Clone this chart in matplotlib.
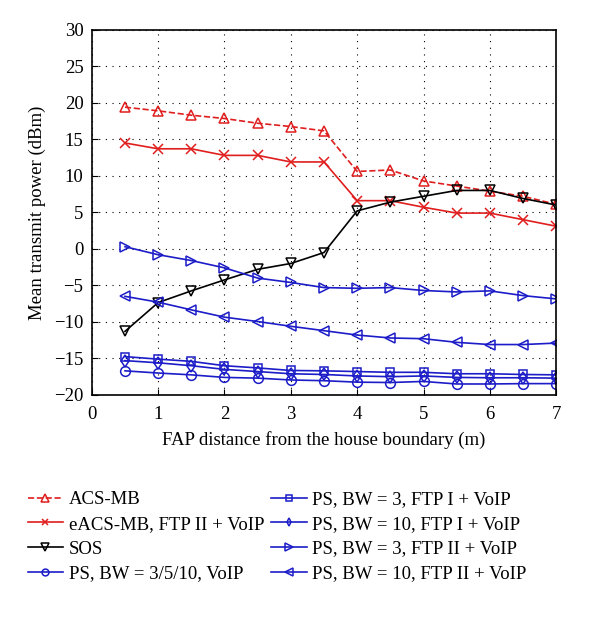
import matplotlib
matplotlib.use("Agg")
import matplotlib.pyplot as plt

plt.rcParams['font.family'] = ['Liberation Serif', 'DejaVu Serif']
plt.rcParams['axes.unicode_minus'] = True

x = [0.5, 1, 1.5, 2, 2.5, 3, 3.5, 4, 4.5, 5, 5.5, 6, 6.5, 7]

acs_mb = [19.4, 18.9, 18.3, 17.85, 17.2, 16.75, 16.15, 10.6, 10.8, 9.3, 8.6, 7.9, 7.2, 6.1]
eacs_mb = [14.5, 13.7, 13.7, 12.8, 12.8, 11.9, 11.9, 6.6, 6.6, 5.7, 4.9, 4.9, 4.0, 3.1]
sos = [-11.3, -7.35, -5.75, -4.25, -2.8, -2.0, -0.5, 5.2, 6.4, 7.2, 8.0, 8.0, 6.9, 6.0]
ps_voip = [-16.7, -17.0, -17.25, -17.6, -17.7, -17.95, -18.05, -18.25, -18.3, -18.15, -18.5, -18.5, -18.45, -18.45]
ps3_ftp1 = [-14.75, -15.1, -15.4, -16.0, -16.3, -16.65, -16.7, -16.8, -16.9, -16.9, -17.1, -17.1, -17.2, -17.25]
ps10_ftp1 = [-15.3, -15.6, -16.0, -16.5, -16.8, -17.1, -17.2, -17.4, -17.5, -17.4, -17.6, -17.65, -17.65, -17.7]
ps3_ftp2 = [0.3, -0.8, -1.6, -2.6, -4.0, -4.6, -5.3, -5.4, -5.3, -5.7, -5.9, -5.75, -6.4, -6.85]
ps10_ftp2 = [-6.5, -7.3, -8.35, -9.35, -9.95, -10.6, -11.2, -11.8, -12.2, -12.3, -12.8, -13.1, -13.1, -12.9]

labels = ["ACS-MB", "eACS-MB, FTP II + VoIP", "SOS", "PS, BW = 3/5/10, VoIP",
          "PS, BW = 3, FTP I + VoIP", "PS, BW = 10, FTP I + VoIP",
          "PS, BW = 3, FTP II + VoIP", "PS, BW = 10, FTP II + VoIP"]
xticks = [0, 1, 2, 3, 4, 5, 6, 7]
yticks = [-20, -15, -10, -5, 0, 5, 10, 15, 20, 25, 30]

RED = '#e01e1e'
BLUE = '#1c1cc8'
BLACK = '#000000'

fig = plt.figure(figsize=(6, 6.2), dpi=100)
ax = fig.add_axes([0.153, 0.363, 0.774, 0.589])

series = [
    (acs_mb, RED, '^', '--', 7.5),
    (eacs_mb, RED, 'x', '-', 7),
    (sos, BLACK, 'v', '-', 7.5),
    (ps_voip, BLUE, 'o', '-', 7),
    (ps3_ftp1, BLUE, 's', '-', 5.5),
    (ps10_ftp1, BLUE, 'd', '-', 6),
    (ps3_ftp2, BLUE, '>', '-', 7.5),
    (ps10_ftp2, BLUE, '<', '-', 7.5),
]
handles = []
for (vals, c, m, ls, ms), lab in zip(series, labels):
    h, = ax.plot(x, vals, color=c, marker=m, linestyle=ls, linewidth=1.2,
                 markersize=ms, markerfacecolor='none', markeredgecolor=c,
                 markeredgewidth=1.1, label=lab)
    handles.append(h)

ax.set_xlim(0, 7)
ax.set_ylim(-20, 30)
ax.set_xticks(xticks)
ax.set_yticks(yticks)
ax.grid(True, color='black', linestyle=(0, (1, 5)), linewidth=0.8)
ax.tick_params(direction='in', labelsize=13.5, length=4)
ax.tick_params(axis='x', pad=8)
ax.tick_params(axis='y', pad=6)
for s in ax.spines.values():
    s.set_linewidth(1.2)
ax.set_xlabel("FAP distance from the house boundary (m)", fontsize=13.5, labelpad=6)
ax.set_ylabel("Mean transmit power (dBm)", fontsize=13.5, labelpad=6)

fig.legend(handles=handles, loc='upper left', bbox_to_anchor=(0.018, 0.235),
           ncol=2, frameon=False, fontsize=13.5, handlelength=1.9,
           handletextpad=0.3, columnspacing=0.35, labelspacing=0.4,
           markerscale=0.7)

fig.savefig("out.png", dpi=100)
